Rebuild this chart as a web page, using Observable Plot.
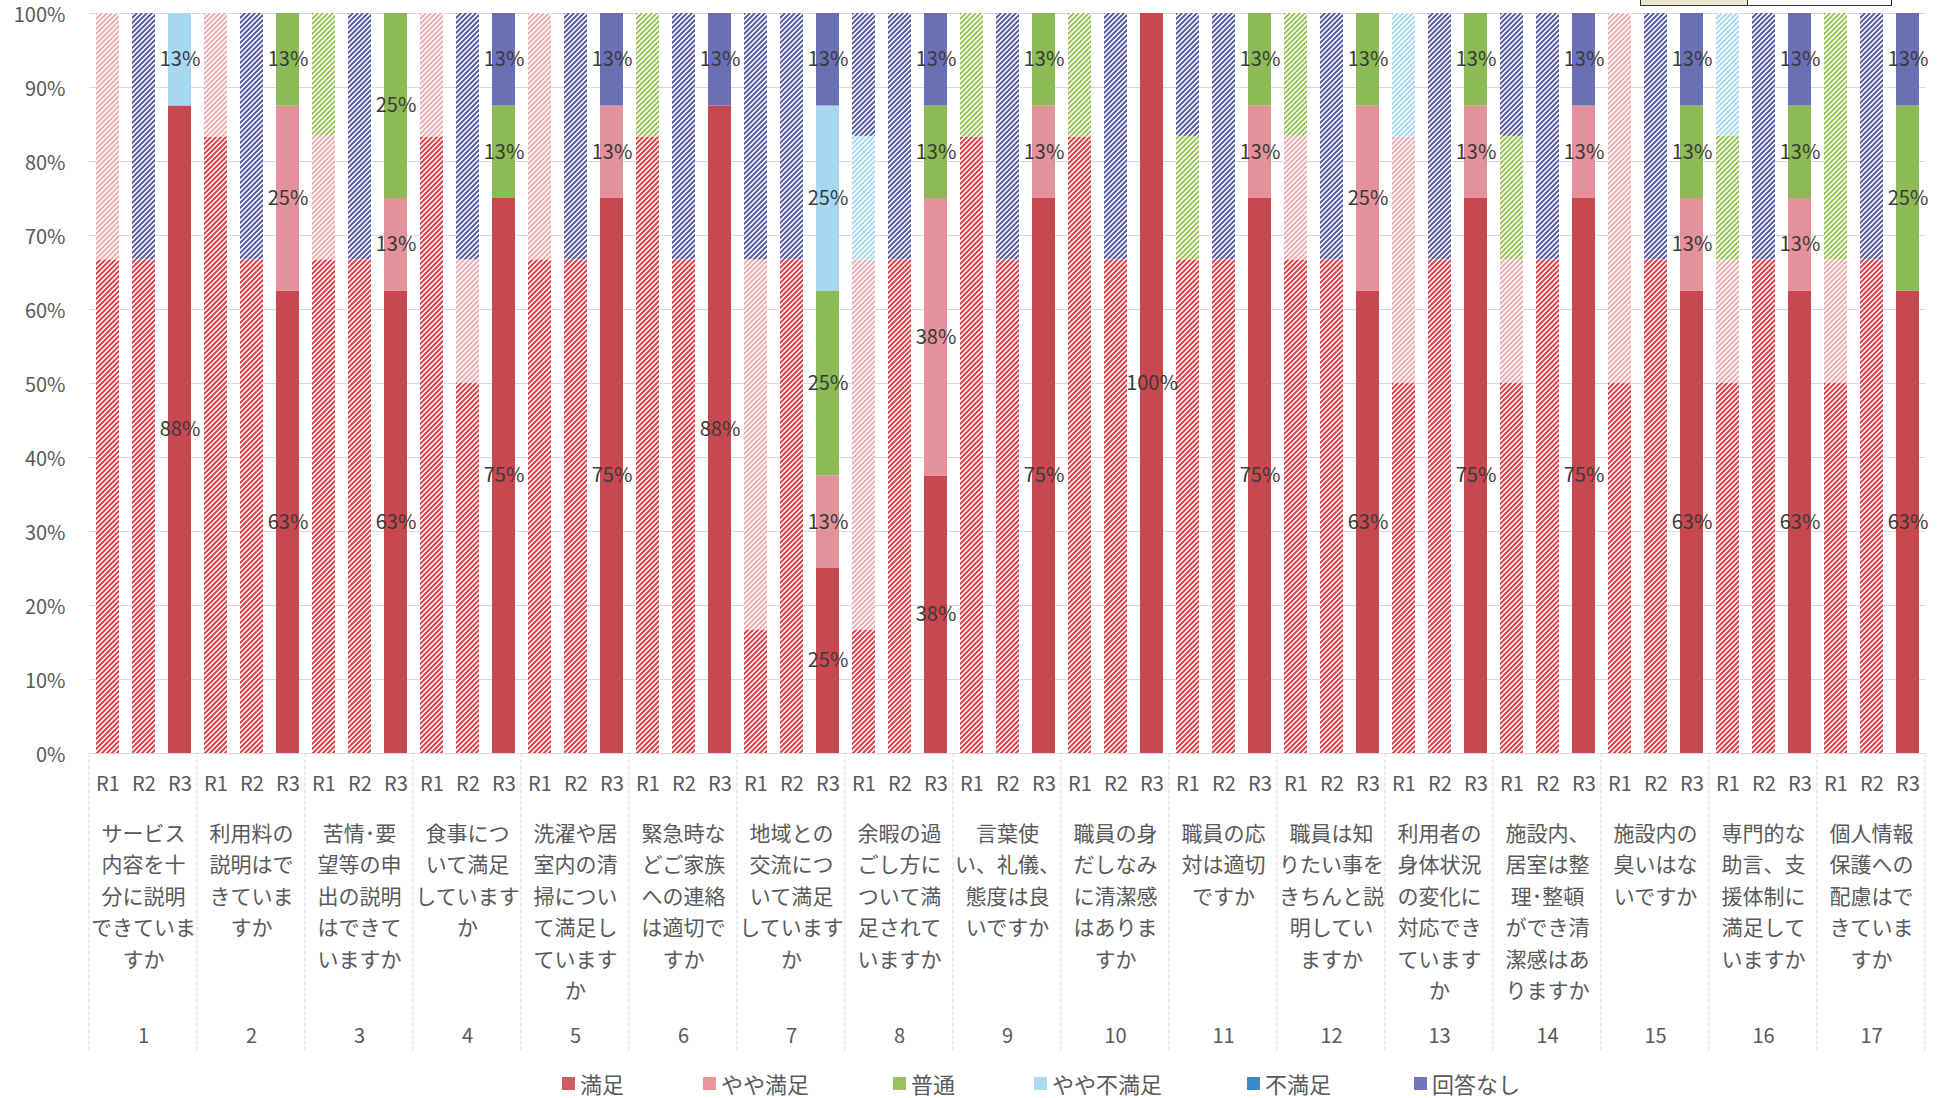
<!DOCTYPE html>
<html>
<head>
<meta charset="utf-8">
<script src="https://cdn.jsdelivr.net/npm/d3@7"></script>
<script src="https://cdn.jsdelivr.net/npm/@observablehq/plot@0.6"></script>
<style>
  html, body { margin: 0; padding: 0; background: #fff; }
  #wrap { position: relative; width: 1946px; height: 1098px; overflow: hidden; font-family: 'Noto Sans CJK JP', 'Noto Sans', sans-serif; }
  #legend { position: absolute; left: 0; top: 1066px; width: 1946px; height: 34px; }
  .li { position: absolute; top: 0; height: 34px; display: flex; align-items: center; font-size: 22px; color: #595959; white-space: nowrap; }
  .sw { width: 13px; height: 13px; margin-right: 5px; }
  #box { position: absolute; left: 1640px; top: -3px; width: 250px; height: 7px; border: 1.5px solid #333; background: #fff; }
  #box div { position: absolute; left: 0; top: 0; width: 106px; height: 100%; background: #ede6cd; border-right: 1.5px solid #333; }
</style>
</head>
<body>
<div id="wrap">
  <div id="chart"></div>
  <div id="legend"></div>
  <div id="box"><div></div></div>
</div>
<script>
// ---- data ----
const groups = [1, 2, 3, 4, 5, 6, 7, 8, 9, 10, 11, 12, 13, 14, 15, 16, 17];
const questions = [
  "サービス\n内容を十\n分に説明\nできていま\nすか",
  "利用料の\n説明はで\nきていま\nすか",
  "苦情･要\n望等の申\n出の説明\nはできて\nいますか",
  "食事につ\nいて満足\nしています\nか",
  "洗濯や居\n室内の清\n掃につい\nて満足し\nています\nか",
  "緊急時な\nどご家族\nへの連絡\nは適切で\nすか",
  "地域との\n交流につ\nいて満足\nしています\nか",
  "余暇の過\nごし方に\nついて満\n足されて\nいますか",
  "言葉使\nい、礼儀、\n態度は良\nいですか",
  "職員の身\nだしなみ\nに清潔感\nはありま\nすか",
  "職員の応\n対は適切\nですか",
  "職員は知\nりたい事を\nきちんと説\n明してい\nますか",
  "利用者の\n身体状況\nの変化に\n対応でき\nています\nか",
  "施設内、\n居室は整\n理･整頓\nができ清\n潔感はあ\nりますか",
  "施設内の\n臭いはな\nいですか",
  "専門的な\n助言、支\n援体制に\n満足して\nいますか",
  "個人情報\n保護への\n配慮はで\nきていま\nすか"
];
const rounds = ["R1", "R2", "R3"];
const categories = ["満足", "やや満足", "普通", "やや不満足", "不満足", "回答なし"];
const yTicks = [0, 10, 20, 30, 40, 50, 60, 70, 80, 90, 100];

// percentages per question: [満足, やや満足, 普通, やや不満足, 不満足, 回答なし]
const r1Values = [
  [66.7, 33.3, 0, 0, 0, 0],
  [83.3, 16.7, 0, 0, 0, 0],
  [66.7, 16.7, 16.6, 0, 0, 0],
  [83.3, 16.7, 0, 0, 0, 0],
  [66.7, 33.3, 0, 0, 0, 0],
  [83.3, 0, 16.7, 0, 0, 0],
  [16.7, 50, 0, 0, 0, 33.3],
  [16.7, 50, 0, 16.7, 0, 16.6],
  [83.3, 0, 16.7, 0, 0, 0],
  [83.3, 0, 16.7, 0, 0, 0],
  [66.7, 0, 16.7, 0, 0, 16.6],
  [66.7, 16.7, 16.6, 0, 0, 0],
  [50, 33.3, 0, 16.7, 0, 0],
  [50, 16.7, 16.7, 0, 0, 16.6],
  [50, 50, 0, 0, 0, 0],
  [50, 16.7, 16.7, 16.6, 0, 0],
  [50, 16.7, 33.3, 0, 0, 0]
];
const r2Values = [
  [66.7, 0, 0, 0, 0, 33.3],
  [66.7, 0, 0, 0, 0, 33.3],
  [66.7, 0, 0, 0, 0, 33.3],
  [50, 16.7, 0, 0, 0, 33.3],
  [66.7, 0, 0, 0, 0, 33.3],
  [66.7, 0, 0, 0, 0, 33.3],
  [66.7, 0, 0, 0, 0, 33.3],
  [66.7, 0, 0, 0, 0, 33.3],
  [66.7, 0, 0, 0, 0, 33.3],
  [66.7, 0, 0, 0, 0, 33.3],
  [66.7, 0, 0, 0, 0, 33.3],
  [66.7, 0, 0, 0, 0, 33.3],
  [66.7, 0, 0, 0, 0, 33.3],
  [66.7, 0, 0, 0, 0, 33.3],
  [66.7, 0, 0, 0, 0, 33.3],
  [66.7, 0, 0, 0, 0, 33.3],
  [66.7, 0, 0, 0, 0, 33.3]
];
const r3Values = [
  [87.5, 0, 0, 12.5, 0, 0],
  [62.5, 25, 12.5, 0, 0, 0],
  [62.5, 12.5, 25, 0, 0, 0],
  [75, 0, 12.5, 0, 0, 12.5],
  [75, 12.5, 0, 0, 0, 12.5],
  [87.5, 0, 0, 0, 0, 12.5],
  [25, 12.5, 25, 25, 0, 12.5],
  [37.5, 37.5, 12.5, 0, 0, 12.5],
  [75, 12.5, 12.5, 0, 0, 0],
  [100, 0, 0, 0, 0, 0],
  [75, 12.5, 12.5, 0, 0, 0],
  [62.5, 25, 12.5, 0, 0, 0],
  [75, 12.5, 12.5, 0, 0, 0],
  [75, 12.5, 0, 0, 0, 12.5],
  [62.5, 12.5, 12.5, 0, 0, 12.5],
  [62.5, 12.5, 12.5, 0, 0, 12.5],
  [62.5, 0, 25, 0, 0, 12.5]
];

// ---- styles ----
const solidColors = ["#c9474e", "#e3919a", "#8bba56", "#a8d7f0", "#3d8bc4", "#6b70b4"];
const hatchColors = ["#e5414a", "#efafb4", "#9ac55c", "#a9daf1", "#3d8bc4", "#5a5da8"];
const legendColors = ["#d05a5e", "#e8959b", "#99c063", "#abdaf2", "#3c89c4", "#7175ba"];
const legendLeft = [562, 703, 893, 1034, 1247, 1414];

const series = [r1Values, r2Values, r3Values];
const data = [];
groups.forEach((g, gi) => rounds.forEach((r, ri) => categories.forEach((c, ci) => {
  const v = series[ri][gi][ci];
  if (v > 0) data.push({group: g, round: r, cat: c, ci, value: v});
})));

const fillFor = d => d.round === "R3" ? solidColors[d.ci] : `url(#hatch${d.ci})`;

const plot = Plot.plot({
  width: 1946,
  height: 1065,
  marginTop: 13,
  marginBottom: 312,
  marginLeft: 89,
  marginRight: 21,
  style: {fontFamily: "'Noto Sans CJK JP', 'Noto Sans', sans-serif", fontSize: "20px", color: "#595959", background: "transparent", overflow: "visible"},
  fx: {domain: groups, padding: 0, axis: null, label: null},
  x: {domain: rounds, paddingInner: 0.375, paddingOuter: 0.1875, axis: null, label: null},
  y: {domain: [0, 100], axis: null, label: null},
  color: {type: "identity"},
  marks: [
    Plot.gridY(yTicks, {stroke: "#d9d9d9", strokeOpacity: 1, strokeWidth: 1}),
    Plot.axisY(yTicks, {tickSize: 0, tickPadding: 24, dy: 2, tickFormat: d => d + "%", fontSize: 20, label: null}),
    Plot.barY(data, Plot.stackY({fx: "group", x: "round", y: "value", z: "cat", fill: fillFor})),
    Plot.text(data.filter(d => d.round === "R3"), Plot.stackY({
      fx: "group", x: "round", y: "value", z: "cat",
      text: d => Math.round(d.value) + "%", fill: "#3a3a3a", fontSize: 20
    })),
    Plot.axisX({anchor: "bottom", tickSize: 0, tickPadding: 23, fontSize: 20, label: null}),
    Plot.axisFx({anchor: "bottom", tickSize: 0, tickPadding: 65, fontSize: 21, lineHeight: 1.5,
      tickFormat: g => questions[g - 1], label: null}),
    Plot.axisFx({anchor: "bottom", tickSize: 0, tickPadding: 275, fontSize: 20,
      tickFormat: g => String(g), label: null})
  ]
});

document.getElementById("chart").appendChild(plot);

// hatch patterns for R1/R2
const svg = d3.select(plot);
const defs = svg.insert("defs", ":first-child");
categories.forEach((c, i) => {
  const p = defs.append("pattern").attr("id", "hatch" + i)
    .attr("patternUnits", "userSpaceOnUse").attr("width", 5).attr("height", 5);
  p.append("rect").attr("width", 5).attr("height", 5).attr("fill", "#ffffff");
  p.append("path").attr("d", "M-1,1 L1,-1 M0,5 L5,0 M4,6 L6,4")
    .attr("stroke", hatchColors[i]).attr("stroke-width", 2).attr("fill", "none");
});

// group dividers in the label area, from the library's fx/y scales
const fx = plot.scale("fx");
const ys = plot.scale("y");
const edges = groups.map(g => fx.apply(g)).concat([fx.apply(groups[groups.length - 1]) + fx.bandwidth]);
const y0 = ys.apply(0);
svg.append("g").selectAll("line").data(edges).join("line")
  .attr("x1", d => d).attr("x2", d => d)
  .attr("y1", y0).attr("y2", 1050)
  .attr("stroke", "#dddddd").attr("stroke-width", 1).attr("stroke-dasharray", "4 2");

// legend
const legend = d3.select("#legend");
categories.forEach((c, i) => {
  const item = legend.append("div").attr("class", "li").style("left", legendLeft[i] + "px");
  item.append("div").attr("class", "sw").style("background", legendColors[i]);
  item.append("span").text(c);
});
</script>
</body>
</html>
